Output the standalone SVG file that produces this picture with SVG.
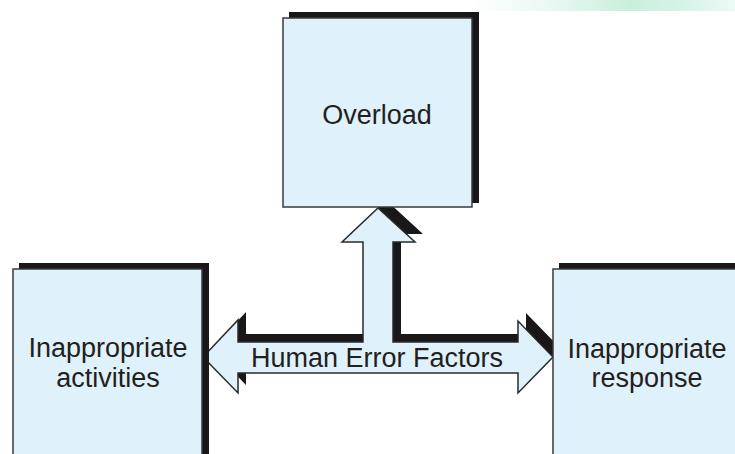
<svg xmlns="http://www.w3.org/2000/svg" width="735" height="454" viewBox="0 0 735 454">
  <defs>
    <linearGradient id="band" x1="0" y1="0" x2="1" y2="0">
      <stop offset="0" stop-color="#ffffff"/>
      <stop offset="0.3" stop-color="#eaf8f4"/>
      <stop offset="0.6" stop-color="#c9efdc"/>
      <stop offset="0.8" stop-color="#d6f3e8"/>
      <stop offset="1" stop-color="#eef9f6"/>
    </linearGradient>
  </defs>
  <style>
    .shadow { fill: #1a1718; }
    .box { fill: #dff1fb; stroke: #3a3a3a; stroke-width: 1.5; }
    .label { font-family: "Liberation Sans", Arial, sans-serif; font-size: 27px; fill: #231f20; text-anchor: middle; }
    .arrow { fill: #dff1fb; stroke: #2a2a2a; stroke-width: 1.5; stroke-linejoin: miter; }
  </style>
  <rect x="0" y="0" width="735" height="454" fill="#ffffff"/>
  <rect x="470" y="0" width="265" height="11" fill="url(#band)"/>

  <g id="connectors">
    <polygon class="shadow" transform="translate(8,-8)" points="203,357 238,320 238,342 363,342 363,242 342,242 378,208 415,242 393,242 393,342 518,342 518,321 553,357 518,393 518,373 238,373 238,393"/>
    <polygon class="arrow" points="203,357 238,320 238,342 363,342 363,242 342,242 378,208 415,242 393,242 393,342 518,342 518,321 553,357 518,393 518,373 238,373 238,393"/>
    <text class="label" x="377" y="367">Human Error Factors</text>
  </g>

  <g id="node-overload">
    <rect class="shadow" x="289" y="12" width="190" height="191"/>
    <rect class="box" x="283" y="18" width="189" height="189"/>
    <text class="label" x="377" y="124">Overload</text>
  </g>

  <g id="node-activities">
    <rect class="shadow" x="19" y="263" width="190" height="200"/>
    <rect class="box" x="13" y="269" width="189" height="200"/>
    <text class="label" x="108" y="357">Inappropriate</text>
    <text class="label" x="108" y="387">activities</text>
  </g>

  <g id="node-response">
    <rect class="shadow" x="559" y="263" width="200" height="200"/>
    <rect class="box" x="553" y="269" width="200" height="200"/>
    <text class="label" x="647" y="358">Inappropriate</text>
    <text class="label" x="647" y="387">response</text>
  </g>
</svg>
